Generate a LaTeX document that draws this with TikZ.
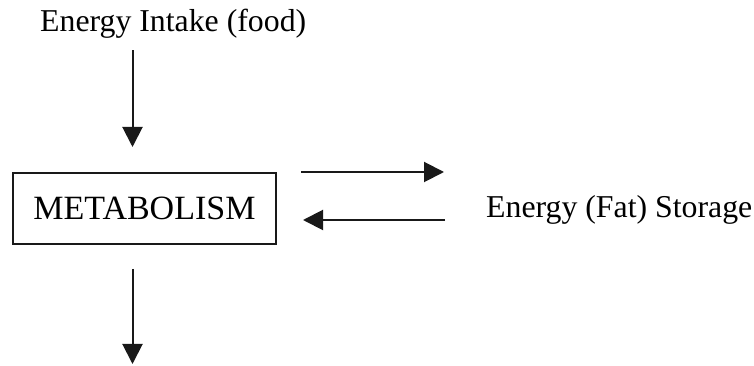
\documentclass[tikz,border=0pt]{standalone}
\usepackage{fontspec}
\setmainfont{Liberation Serif}
\usetikzlibrary{arrows.meta}

\begin{document}
\begin{tikzpicture}[x=1pt, y=1pt, every node/.style={font=\fontsize{31.8}{38}\selectfont, inner sep=0pt}, >={Triangle[length=20pt, width=20pt]}, flow/.style={->, line width=2pt, color=black!90}, metabox/.style={draw, line width=2pt, color=black!90, text=black, minimum width=263pt, minimum height=71pt, font=\fontsize{34}{40}\selectfont}]
	\useasboundingbox (0,0) rectangle (754,366);
	\node[anchor=base west] (intake) at (40,334) {Energy Intake (food)};
	\node[metabox] (metab) at (144.5,157.5) {METABOLISM};
	\node[anchor=base west] (storage) at (486,148) {Energy (Fat) Storage};
	\coordinate (stem) at (132.5,0);
	\coordinate (out) at (132.5,2);
	\coordinate (hi) at (0,194);
	\coordinate (lo) at (0,146);
	\draw[flow, shorten <=11pt, shorten >=25pt] (intake.south -| stem) -- (metab.north -| stem);
	\draw[flow, shorten <=24pt] (metab.south -| stem) -- (out);
	\draw[flow, shorten <=24pt, shorten >=42pt] (metab.east |- hi) -- (storage.west |- hi);
	\draw[flow, shorten <=41pt, shorten >=26pt] (storage.west |- lo) -- (metab.east |- lo);
\end{tikzpicture}
\end{document}
